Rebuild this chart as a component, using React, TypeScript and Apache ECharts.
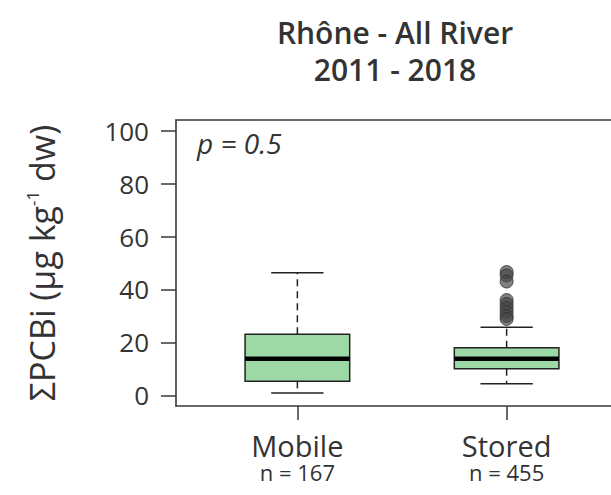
import React, { useEffect, useRef } from "react";
import * as echarts from "echarts";

const categories = ["Mobile", "Stored"];
const counts = [167, 455];
const positions = [1, 2];
// [lower whisker, Q1, median, Q3, upper whisker]
const mobileStats = [0.9, 5.3, 13.8, 23.1, 46.3];
const storedStats = [4.4, 10.1, 13.8, 18.0, 25.7];
const storedOutliers = [46.6, 45.3, 43.0, 36.0, 34.5, 33.0, 31.5, 30.0, 28.9];
const yTicks = [0, 20, 40, 60, 80, 100];
const titleLines = ["Rhône - All River", "2011 - 2018"];
const pValueText = "p = 0.5";

const FONT = "'Open Sans', 'Noto Sans', sans-serif";
const TXT = "#333";
const AXIS = "#383838";

export default function App() {
  const ref = useRef<HTMLDivElement>(null);
  useEffect(() => {
    if (!ref.current) return;
    const chart = echarts.init(ref.current, null, { renderer: "svg" });
    const boxData = [
      [positions[0], ...mobileStats],
      [positions[1], ...storedStats],
    ];
    const outlierData = storedOutliers.map((v) => [positions[1], v]);
    const titleStyle = { fontFamily: FONT, fontSize: 30, fontWeight: 600, color: TXT };
    chart.setOption({
      animation: false,
      backgroundColor: "#fff",
      title: [
        { text: titleLines[0], left: 390, top: 12, textAlign: "center", textStyle: titleStyle },
        { text: titleLines[1], left: 390, top: 49, textAlign: "center", textStyle: titleStyle },
      ],
      grid: { left: 176, top: 120, width: 452, height: 286, show: false, outerBoundsMode: "none" },
      xAxis: [
        {
          type: "value", min: 0.42, max: 2.58,
          splitLine: { show: false },
          axisLine: { show: true, onZero: false, lineStyle: { color: AXIS, width: 1.6 } },
          axisTick: { show: true, length: 14, customValues: positions, lineStyle: { color: AXIS, width: 1.5 } },
          axisLabel: {
            show: true, customValues: positions, margin: 24,
            formatter: (v: number) => {
              const i = positions.indexOf(Math.round(v));
              return "{a|" + categories[i] + "}\n{b|n = " + counts[i] + "}";
            },
            rich: {
              a: { fontFamily: FONT, fontSize: 29, color: TXT, lineHeight: 30 },
              b: { fontFamily: FONT, fontSize: 22, color: TXT, lineHeight: 23 },
            },
          },
        },
        {
          type: "value", position: "top", min: 0.42, max: 2.58,
          splitLine: { show: false },
          axisLine: { show: true, onZero: false, lineStyle: { color: AXIS, width: 1.6 } },
          axisTick: { show: false }, axisLabel: { show: false },
        },
      ],
      yAxis: {
        type: "value", min: -4, max: 104,
        splitLine: { show: false },
        axisLine: { show: true, onZero: false, lineStyle: { color: AXIS, width: 1.6 } },
        axisTick: { show: true, length: 15, customValues: yTicks, lineStyle: { color: AXIS, width: 1.5 } },
        axisLabel: { show: true, customValues: yTicks, margin: 27, fontFamily: FONT, fontSize: 26, color: TXT },
        name: "{a|ΣPCBi (µg kg}{s|-1}{a| dw)}",
        nameLocation: "middle", nameRotate: 90, nameGap: 116,
        nameTextStyle: {
          rich: {
            a: { fontFamily: FONT, fontSize: 34, color: TXT, lineHeight: 36 },
            s: { fontFamily: FONT, fontSize: 17, color: TXT, lineHeight: 36, verticalAlign: "top", padding: [0, 0, 10, 0] },
          },
        },
      },
      graphic: [
        { type: "text", left: 197, top: 129, style: { text: pValueText, fontFamily: FONT, fontSize: 28, fontStyle: "italic", fill: TXT } },
      ],
      series: [
        {
          type: "custom", data: boxData, encode: { x: 0, y: [1, 2, 3, 4, 5] },
          renderItem: (params: any, api: any) => {
            const x = api.value(0);
            const lo = api.coord([x, api.value(1)]);
            const q1 = api.coord([x, api.value(2)]);
            const md = api.coord([x, api.value(3)]);
            const q3 = api.coord([x, api.value(4)]);
            const hi = api.coord([x, api.value(5)]);
            const bw = api.size([0.5, 0])[0];
            const cw = api.size([0.25, 0])[0];
            const cx = lo[0];
            const stroke = "#222";
            const dash = { stroke, lineWidth: 1.5, lineDash: [7, 5] };
            return {
              type: "group",
              children: [
                { type: "line", shape: { x1: cx, y1: q3[1], x2: cx, y2: hi[1] }, style: dash },
                { type: "line", shape: { x1: cx, y1: q1[1], x2: cx, y2: lo[1] }, style: dash },
                { type: "line", shape: { x1: cx - cw / 2, y1: hi[1], x2: cx + cw / 2, y2: hi[1] }, style: { stroke, lineWidth: 1.5 } },
                { type: "line", shape: { x1: cx - cw / 2, y1: lo[1], x2: cx + cw / 2, y2: lo[1] }, style: { stroke, lineWidth: 1.5 } },
                { type: "rect", shape: { x: cx - bw / 2, y: q3[1], width: bw, height: q1[1] - q3[1] }, style: { fill: "#9dd9a7", stroke, lineWidth: 1.5 } },
                { type: "line", shape: { x1: cx - bw / 2, y1: md[1], x2: cx + bw / 2, y2: md[1] }, style: { stroke: "#000", lineWidth: 4.5 } },
              ],
            };
          },
          z: 2,
        },
        {
          type: "scatter", data: outlierData, symbol: "circle", symbolSize: 13,
          itemStyle: { color: "rgba(70,70,70,0.85)", borderColor: "#333", borderWidth: 1 }, z: 3,
        },
      ],
    });
    return () => chart.dispose();
  }, []);
  return <div ref={ref} style={{ position: "fixed", left: 0, top: 0, width: 611, height: 495 }} />;
}
